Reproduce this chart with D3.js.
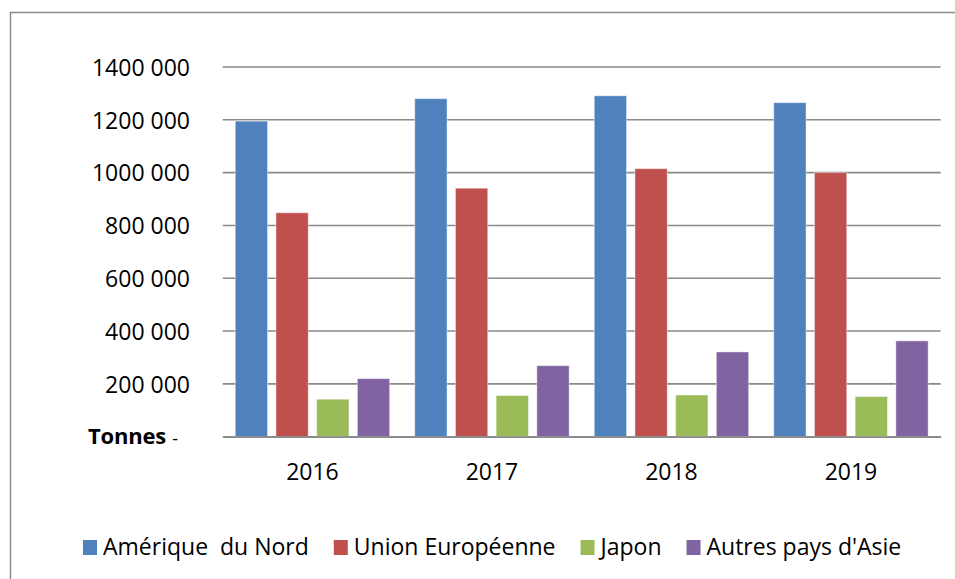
<html>
<head>
  <meta charset="utf-8">
  <script src="https://d3js.org/d3.v7.min.js"></script>
  <style>
    body { margin: 0; background: #fff; }
    text { font-family: "Open Sans", sans-serif; fill: #000; }
  </style>
</head>
<body>
<script>
var years = ["2016", "2017", "2018", "2019"];
var series = ["Amérique  du Nord", "Union Européenne", "Japon", "Autres pays d'Asie"];
var colors = ["#4F81BD", "#C0504D", "#9BBB59", "#8064A2"];
var ameriqueNord = [1195000, 1280000, 1291000, 1265000];
var unionEuropeenne = [848000, 941000, 1015000, 1000000];
var japon = [142000, 156000, 158000, 152000];
var autresAsie = [220000, 269000, 321000, 363000];
var tickValues = [0, 200000, 400000, 600000, 800000, 1000000, 1200000, 1400000];

var values = [ameriqueNord, unionEuropeenne, japon, autresAsie];

var width = 955,
    height = 579;

var svg = d3.select("body")
  .append("svg")
  .attr("width", width)
  .attr("height", height);

// outer chart frame (right and bottom edges are cut off in the picture)
svg.append("rect")
  .attr("x", 10.5)
  .attr("y", 12.5)
  .attr("width", 1000)
  .attr("height", 700)
  .attr("fill", "none")
  .attr("stroke", "#8c8c8c")
  .attr("stroke-width", 1.5);

var x0 = d3.scaleBand()
  .domain(years)
  .range([222.7, 940.7])
  .padding(0);

var x1 = d3.scaleBand()
  .domain(d3.range(series.length))
  .range([0, x0.bandwidth()])
  .paddingInner(0.206)
  .paddingOuter(0.308);

var y = d3.scaleLinear()
  .domain([0, 1400000])
  .range([436.7, 67]);

// gridlines
svg.append("g")
  .selectAll("line")
  .data(tickValues)
  .enter()
  .append("line")
    .attr("x1", x0.range()[0])
    .attr("x2", x0.range()[1])
    .attr("y1", d => y(d))
    .attr("y2", d => y(d))
    .attr("stroke", "#8a8a8a")
    .attr("stroke-width", 1.6);

// y axis labels
var yAxis = d3.axisLeft(y)
  .tickValues(tickValues.slice(1))
  .tickSize(0)
  .tickPadding(0)
  .tickFormat(d => Math.floor(d / 1000) + " 000");

var gy = svg.append("g")
  .attr("transform", "translate(190,0)")
  .call(yAxis);
gy.select(".domain").remove();
gy.selectAll("text")
  .attr("font-family", "Open Sans")
  .attr("font-size", 23)
  .attr("fill", "#000")
  .attr("dy", "0.36em");

svg.append("text")
  .attr("x", 88)
  .attr("y", y(0) + 7)
  .attr("font-size", 22)
  .attr("font-weight", "bold")
  .attr("letter-spacing", -0.2)
  .text("Tonnes");

svg.append("text")
  .attr("x", 178)
  .attr("y", y(0) + 8)
  .attr("text-anchor", "end")
  .attr("font-size", 18)
  .text("-");

// bars
var groups = svg.append("g")
  .selectAll("g")
  .data(years)
  .enter()
  .append("g")
    .attr("transform", d => "translate(" + x0(d) + ",0)");

groups.selectAll("rect")
  .data((d, i) => values.map((v, s) => ({ s: s, v: v[i] })))
  .enter()
  .append("rect")
    .attr("x", d => x1(d.s))
    .attr("y", d => y(d.v))
    .attr("width", x1.bandwidth())
    .attr("height", d => y(0) - y(d.v))
    .attr("fill", d => colors[d.s])
    .attr("stroke", "#ffffff")
    .attr("stroke-opacity", 0.45)
    .attr("stroke-width", 1);

// x axis
var xAxis = d3.axisBottom(x0).tickSize(0).tickPadding(0);
var gx = svg.append("g")
  .attr("transform", "translate(0," + y(0) + ")")
  .call(xAxis);
gx.select(".domain").attr("stroke", "#8a8a8a").attr("stroke-width", 1.8);
gx.selectAll("text")
  .attr("font-family", "Open Sans")
  .attr("font-size", 23)
  .attr("fill", "#000")
  .attr("dy", 0)
  .attr("y", 43);

// legend
var legend = svg.append("g").attr("transform", "translate(0,555)");
var lx = 83;
series.forEach(function(name, i) {
  legend.append("rect")
    .attr("x", lx)
    .attr("y", -15)
    .attr("width", 14)
    .attr("height", 15)
    .attr("fill", colors[i]);
  var t = legend.append("text")
    .attr("x", lx + 20)
    .attr("y", 0)
    .attr("font-size", 23)
    .style("white-space", "pre")
    .text(name);
  lx += 20 + t.node().getComputedTextLength() + 25;
});
</script>
</body>
</html>
